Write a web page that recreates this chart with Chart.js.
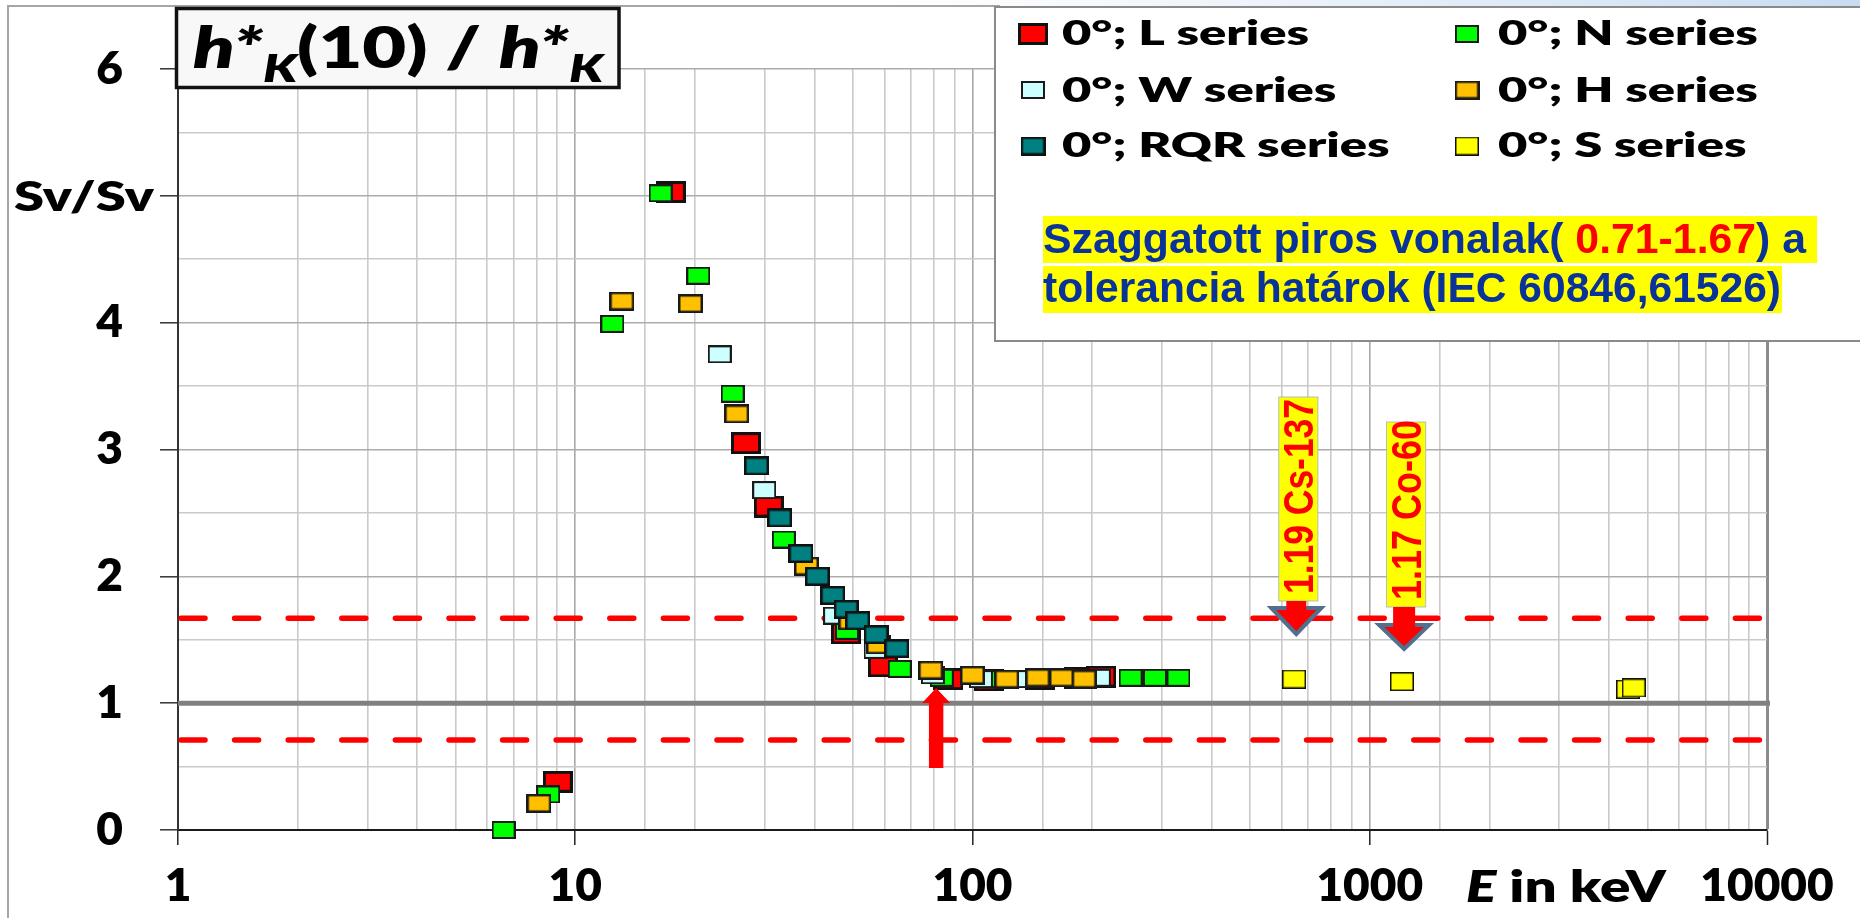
<!DOCTYPE html>
<html>
<head>
<meta charset="utf-8">
<title>h*K(10) / h*K</title>
<script src="https://cdn.jsdelivr.net/npm/chart.js@4.4.1/dist/chart.umd.min.js"></script>
<style>
  html, body { margin: 0; padding: 0; background: #ffffff; }
  canvas { display: block; }
</style>
</head>
<body>
<canvas id="chart" width="1860" height="918"></canvas>
<script>
// Conversion coefficient ratio h*K(10)/h*K versus photon energy, per radiation quality series
const energyL   = [9.04, 17.4, 26.9, 30.7, 48.0, 59.5, 87, 110, 148, 185, 211];
const ratioL    = [0.38, 5.03, 3.05, 2.55, 1.55, 1.29, 1.19, 1.18, 1.19, 1.20, 1.21];

const energyN   = [6.6, 8.55, 12.4, 16.4, 20.4, 24.9, 33.5, 48.3, 65.6, 83.7, 117, 250, 288, 330];
const ratioN    = [0.00, 0.28, 3.99, 5.02, 4.37, 3.44, 2.29, 1.57, 1.27, 1.20, 1.19, 1.20, 1.20, 1.20];

const energyW   = [23.1, 29.9, 45.1, 57, 79.5, 105, 137, 208];
const ratioW    = [3.75, 2.68, 1.69, 1.42, 1.22, 1.19, 1.19, 1.20];

const energyH   = [8.1, 13.1, 19.5, 25.5, 38.2, 49.4, 58, 78.5, 100, 122, 146, 167.5, 191];
const ratioH    = [0.21, 4.17, 4.15, 3.28, 2.08, 1.65, 1.46, 1.26, 1.22, 1.19, 1.20, 1.20, 1.19];

const energyRQR = [28.6, 32.7, 37.0, 40.7, 44.5, 48.1, 51.4, 57.2, 64.5];
const ratioRQR  = [2.87, 2.46, 2.18, 2.00, 1.85, 1.74, 1.65, 1.54, 1.43];

const energyS   = [645, 1205, 4470, 4620];
const ratioS    = [1.19, 1.17, 1.11, 1.12];
const sourceNames = ['Cs-137', 'Co-60'];   // first two S-series points

const toleranceLimits = [0.71, 1.67];
const referenceRatio = 1;
const markedEnergy = 81;

const xTickLabels = ['1', '10', '100', '1000', '10000'];
const yTickLabels = ['0', '1', '2', '3', '4', '', '6'];
const seriesLabels = ['0°; L series', '0°; N series', '0°; W series', '0°; H series', '0°; RQR series', '0°; S series'];

// ---- marker images (the squares are slightly wider than tall) ----
function markerCanvas(fill, w, h, edge, edgeColor) {
  const c = document.createElement('canvas');
  c.width = w; c.height = h;
  const g = c.getContext('2d');
  g.fillStyle = edgeColor;
  g.fillRect(0, 0, w, h);
  g.fillStyle = fill;
  g.fillRect(edge, edge, w - 2 * edge, h - 2 * edge);
  return c;
}
const markerL   = markerCanvas('#ff0000', 30, 22, 3, '#111111');
const markerN   = markerCanvas('#00ff00', 24, 18, 2, '#1a1a1a');
const markerW   = markerCanvas('#ccffff', 24, 18, 2, '#1a1a1a');
const markerH   = markerCanvas('#ffc000', 25, 19, 2.5, '#1a1a1a');
const markerRQR = markerCanvas('#008080', 25, 19, 2.5, '#111111');
const markerS   = markerCanvas('#ffff00', 24, 19, 1.5, '#111111');

function series(label, energies, ratios, marker, order) {
  return {
    label: label,
    order: order,
    clip: false,
    showLine: false,
    data: energies.map((e, i) => ({ x: e, y: ratios[i] })),
    pointStyle: marker,
    pointRadius: 12,
    pointHoverRadius: 12
  };
}

const datasets = [
  series(seriesLabels[0], energyL, ratioL, markerL, 4),
  series(seriesLabels[1], energyN, ratioN, markerN, 3),
  series(seriesLabels[2], energyW, ratioW, markerW, 2),
  series(seriesLabels[3], energyH, ratioH, markerH, 1),
  series(seriesLabels[4], energyRQR, ratioRQR, markerRQR, 0),
  series(seriesLabels[5], energyS, ratioS, markerS, 5)
];

// ---- text helpers ----
function drawRuns(ctx, runs, x, y, targetWidth) {
  let total = 0;
  runs.forEach(r => { ctx.font = r.font; r.w = ctx.measureText(r.text).width; total += r.w; });
  const sx = targetWidth ? targetWidth / total : 1;
  ctx.save();
  ctx.translate(x, y);
  ctx.scale(sx, 1);
  ctx.textBaseline = 'alphabetic';
  ctx.textAlign = 'left';
  let cx = 0;
  runs.forEach(r => {
    ctx.font = r.font;
    ctx.fillStyle = r.color || '#000000';
    ctx.fillText(r.text, cx, r.dy || 0);
    cx += r.w;
  });
  ctx.restore();
  return sx;
}

// ---- reference and tolerance lines ----
const guideLines = {
  id: 'guideLines',
  beforeDatasetsDraw(chart) {
    const { ctx, chartArea: a, scales: { y } } = chart;
    ctx.save();
    ctx.beginPath();
    ctx.rect(a.left, a.top, a.right - a.left + 3, a.bottom - a.top);
    ctx.clip();
    // tolerance limits
    ctx.strokeStyle = '#ff0000';
    ctx.lineWidth = 5.5;
    ctx.lineCap = 'round';
    ctx.setLineDash([24, 29.6]);
    toleranceLimits.forEach(v => {
      const py = y.getPixelForValue(v);
      ctx.beginPath();
      ctx.moveTo(a.left + 3, py);
      ctx.lineTo(a.right, py);
      ctx.stroke();
    });
    // ratio = 1
    ctx.setLineDash([]);
    ctx.lineCap = 'butt';
    ctx.strokeStyle = '#808080';
    ctx.lineWidth = 5;
    const p1 = y.getPixelForValue(referenceRatio);
    ctx.beginPath();
    ctx.moveTo(a.left, p1);
    ctx.lineTo(a.right + 3, p1);
    ctx.stroke();
    ctx.restore();
  }
};

// ---- arrows and source notes ----
const notes = {
  id: 'notes',
  afterDatasetsDraw(chart) {
    const { ctx, scales: { x } } = chart;
    ctx.save();

    // red upward arrow
    const ax = x.getPixelForValue(markedEnergy);
    ctx.fillStyle = '#ff0000';
    ctx.beginPath();
    ctx.moveTo(ax, 688);
    ctx.lineTo(ax + 14, 703);
    ctx.lineTo(ax + 7.2, 703);
    ctx.lineTo(ax + 7.2, 768);
    ctx.lineTo(ax - 7.2, 768);
    ctx.lineTo(ax - 7.2, 703);
    ctx.lineTo(ax - 14, 703);
    ctx.closePath();
    ctx.fill();

    // labelled downward arrows above the Cs-137 and Co-60 points
    const geom = [
      { boxTop: 397, boxBottom: 601, headTop: 608, tip: 634, textLen: 195, shaft: 10 },
      { boxTop: 422, boxBottom: 607, headTop: 625, tip: 649, textLen: 180, shaft: 11 }
    ];
    sourceNames.forEach((name, i) => {
      const g = geom[i];
      const tx = x.getPixelForValue(energyS[i]) + 2.2;
      const bx = tx + 2;
      // yellow label box
      ctx.fillStyle = '#ffff00';
      ctx.fillRect(bx - 19.6, g.boxTop, 39.2, g.boxBottom - g.boxTop);
      ctx.strokeStyle = 'rgba(140,170,220,0.7)';
      ctx.lineWidth = 1;
      ctx.strokeRect(bx - 19.6, g.boxTop, 39.2, g.boxBottom - g.boxTop);
      // rotated text, reading upwards
      ctx.save();
      ctx.translate(bx + 15, g.boxBottom - 7);
      ctx.rotate(-Math.PI / 2);
      ctx.font = 'bold 42px "Liberation Sans", Arial, sans-serif';
      const label = ratioS[i].toFixed(2) + ' ' + name;
      const w = ctx.measureText(label).width;
      ctx.scale(g.textLen / w, 1);
      ctx.fillStyle = '#ff0000';
      ctx.textBaseline = 'alphabetic';
      ctx.fillText(label, 0, 0);
      ctx.restore();
      // arrow head
      ctx.beginPath();
      ctx.moveTo(tx - 25, g.headTop);
      ctx.lineTo(tx + 25, g.headTop);
      ctx.lineTo(tx, g.tip);
      ctx.closePath();
      ctx.fillStyle = '#ff0000';
      ctx.fill();
      ctx.strokeStyle = '#51708f';
      ctx.lineWidth = 4;
      ctx.lineJoin = 'miter';
      ctx.stroke();
      // shaft
      ctx.fillStyle = '#ff0000';
      ctx.fillRect(tx - g.shaft, g.boxBottom, 2 * g.shaft, g.headTop - g.boxBottom + 5);
    });
    ctx.restore();
  }
};

// ---- frame, title box, legend box, axis titles ----
const decorations = {
  id: 'decorations',
  beforeDraw(chart) {
    const { ctx } = chart;
    ctx.save();
    ctx.fillStyle = '#ffffff';
    ctx.fillRect(0, 0, chart.width, chart.height);
    const grad = ctx.createLinearGradient(880, 0, 1860, 0);
    grad.addColorStop(0, 'rgba(214,228,244,0)');
    grad.addColorStop(1, 'rgba(200,220,242,1)');
    ctx.fillStyle = grad;
    ctx.fillRect(880, 0, 980, 7);
    ctx.strokeStyle = '#a6a6a6';
    ctx.lineWidth = 2;
    ctx.beginPath();
    ctx.moveTo(8, 918);
    ctx.lineTo(8, 6);
    ctx.lineTo(1000, 6);
    ctx.stroke();
    ctx.restore();
  },
  afterDraw(chart) {
    const { ctx } = chart;
    ctx.save();

    // title box
    ctx.fillStyle = '#f8f8f8';
    ctx.fillRect(176, 8, 443, 80);
    ctx.strokeStyle = '#111111';
    ctx.lineWidth = 3.5;
    ctx.strokeRect(176.5, 8.5, 442.5, 79);
    const IT = 'italic 800 56px Lato';
    const SUB = 'italic 800 38px Lato';
    const UP = '800 56px Lato';
    drawRuns(ctx, [
      { text: 'h*', font: IT },
      { text: 'K', font: SUB, dy: 14 },
      { text: '(10) / ', font: UP },
      { text: 'h*', font: IT },
      { text: 'K', font: SUB, dy: 14 }
    ], 193, 68, 410);

    // y-axis unit beside the 5 gridline
    drawRuns(ctx, [{ text: 'Sv/Sv', font: '800 42px Lato' }], 14, 211, 140);

    // x-axis title between the last two decade labels
    drawRuns(ctx, [
      { text: 'E', font: 'italic 800 44px Lato' },
      { text: ' in keV', font: '800 44px Lato' }
    ], 1466, 902, 200);

    // legend box
    ctx.fillStyle = '#ffffff';
    ctx.fillRect(995, 7, 880, 334);
    ctx.strokeStyle = '#8a8a8a';
    ctx.lineWidth = 2;
    ctx.strokeRect(995, 7, 880, 334);

    const rowY = [34, 90, 146];
    const baseY = [45, 101.5, 157];
    const colMarkX = [1033, 1467];
    const colTextX = [1062, 1498];
    const LF = '800 33px Lato';
    ctx.font = LF;
    const sx = 247 / ctx.measureText(chart.data.datasets[0].label).width;
    chart.data.datasets.forEach((ds, i) => {
      const col = i % 2, row = Math.floor(i / 2);
      const m = ds.pointStyle;
      ctx.drawImage(m, colMarkX[col] - m.width / 2, rowY[row] - m.height / 2);
      ctx.save();
      ctx.translate(colTextX[col], baseY[row]);
      ctx.scale(sx, 1);
      ctx.font = LF;
      ctx.fillStyle = '#000000';
      ctx.fillText(ds.label, 0, 0);
      ctx.restore();
    });

    // tolerance note with highlight
    ctx.fillStyle = '#ffff00';
    ctx.fillRect(1043, 216, 774, 47);
    ctx.fillRect(1043, 266, 739, 47);
    const NB = 'bold 42px "Liberation Sans", Arial, sans-serif';
    const blue = '#0a3399';
    drawRuns(ctx, [
      { text: 'Szaggatott piros vonalak( ', font: NB, color: blue },
      { text: toleranceLimits[0].toFixed(2) + '-' + toleranceLimits[1].toFixed(2), font: NB, color: '#ff0000' },
      { text: ') a', font: NB, color: blue }
    ], 1043, 253, 763);
    drawRuns(ctx, [
      { text: 'tolerancia határok (IEC 60846,61526)', font: NB, color: blue }
    ], 1043, 302, 738);

    ctx.restore();
  }
};

const isDecade = v => Math.abs(Math.log10(v) - Math.round(Math.log10(v))) < 1e-9;

new Chart(document.getElementById('chart'), {
  type: 'scatter',
  data: { datasets: datasets },
  plugins: [decorations, guideLines, notes],
  options: {
    responsive: false,
    animation: false,
    events: [],
    layout: { padding: { top: 69, right: 93, left: 0, bottom: 0 } },
    plugins: {
      legend: { display: false },
      tooltip: { enabled: false }
    },
    scales: {
      x: {
        type: 'logarithmic',
        min: 1,
        max: 10000,
        afterFit: s => { s.height = 88; },
        border: { display: true, color: '#1a1a1a', width: 2 },
        grid: {
          color: c => {
            const v = c.tick ? c.tick.value : 1;
            if (v === 10000) return '#8c8c8c';
            return isDecade(v) ? '#a8a8a8' : '#cacaca';
          },
          lineWidth: c => (c.tick && c.tick.value === 10000) ? 3 : 1.6,
          tickColor: c => (c.tick && isDecade(c.tick.value)) ? '#222222' : 'rgba(0,0,0,0)',
          tickLength: 15,
          tickWidth: 1.5
        },
        ticks: {
          autoSkip: false,
          maxRotation: 0,
          minRotation: 0,
          padding: 14,
          color: '#000000',
          font: { family: 'Lato', weight: '800', size: 46 },
          callback: v => xTickLabels.includes(String(v)) ? String(v) : ''
        }
      },
      y: {
        type: 'linear',
        min: 0,
        max: 6,
        afterFit: s => { s.width = 178; },
        border: { display: true, color: '#333333', width: 2 },
        grid: {
          color: c => (c.tick && Number.isInteger(c.tick.value)) ? '#acacac' : '#cacaca',
          lineWidth: 1.6,
          tickColor: c => (c.tick && Number.isInteger(c.tick.value)) ? '#333333' : 'rgba(0,0,0,0)',
          tickLength: 18,
          tickWidth: 1.5
        },
        ticks: {
          stepSize: 0.5,
          autoSkip: false,
          padding: 37,
          color: '#000000',
          font: { family: 'Lato', weight: '800', size: 46 },
          callback: v => Number.isInteger(v) ? yTickLabels[v] : ''
        }
      }
    }
  }
});
</script>
</body>
</html>
